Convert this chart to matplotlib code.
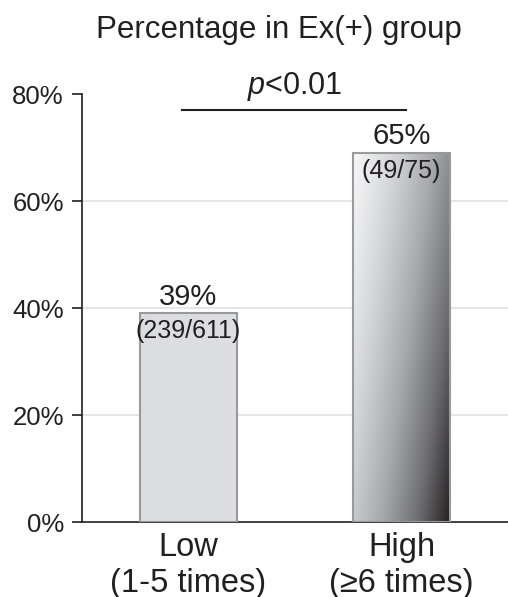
import numpy as np
import matplotlib
matplotlib.use('Agg')
import matplotlib.pyplot as plt
from matplotlib.colors import LinearSegmentedColormap

plt.rcParams['font.family'] = ['Liberation Sans', 'DejaVu Sans']
plt.rcParams['mathtext.fontset'] = 'custom'
plt.rcParams['mathtext.it'] = 'Liberation Sans:italic'
plt.rcParams['mathtext.rm'] = 'Liberation Sans'

categories = ['Low\n(1-5 times)', 'High\n(\u22656 times)']
heights = [39, 69]
pct_labels = ['39%', '65%']
frac_labels = ['(239/611)', '(49/75)']
yticks = [0, 20, 40, 60, 80]
ytick_labels = ['0%', '20%', '40%', '60%', '80%']

fig = plt.figure(figsize=(5.08, 5.97), dpi=100)
ax = fig.add_axes([0.1614, 0.1256, 0.8386, 0.7169])

x = np.arange(len(categories))
bars = ax.bar(x, heights, width=0.46, color=['#dcdde0', 'none'],
              edgecolor='#9a9a9a', linewidth=1.5, zorder=3)

# gradient fill on the second bar
b = bars[1]
x0, y0 = b.get_x(), b.get_y()
w, h = b.get_width(), b.get_height()
u = np.linspace(0, 1, 200)
v = np.linspace(1, 0, 300)
U, V = np.meshgrid(u, v)
t = 0.75 * U + 0.4 * (1 - V)
t = t / t.max()
cmap = LinearSegmentedColormap.from_list(
    'g', ['#f6f6f7', '#d0d1d4', '#a5a6aa', '#6e6e72', '#231f20'])
im = ax.imshow(t ** 1.15, cmap=cmap, extent=[x0, x0 + w, y0, y0 + h],
               aspect='auto', zorder=2, interpolation='bilinear')
im.set_clip_path(b)

for i in range(len(categories)):
    ax.text(x[i], heights[i] + 3.1, pct_labels[i], ha='center', va='center',
            fontsize=21, color='#231f20', zorder=4)
    ax.text(x[i], heights[i] - 3.3, frac_labels[i], ha='center', va='center',
            fontsize=18, color='#231f20', zorder=4)

ax.set_xlim(-0.5, 1.5)
ax.set_ylim(0, 80)
ax.set_yticks(yticks)
ax.set_yticklabels(ytick_labels)
ax.set_xticks(x)
ax.set_xticklabels(categories, fontsize=23.5, linespacing=1.2)
ax.tick_params(axis='x', length=0, pad=7, colors='#231f20')
ax.tick_params(axis='y', length=7, width=1.2, pad=6, labelsize=18.5,
               colors='#231f20')

for yv in [20, 40, 60]:
    ax.axhline(yv, color='#e2e2e2', linewidth=1.2, zorder=1)

for s in ['top', 'right']:
    ax.spines[s].set_visible(False)
for s in ['left', 'bottom']:
    ax.spines[s].set_color('#231f20')
    ax.spines[s].set_linewidth(1.2)

# significance line
ax.plot([-0.03, 1.02], [77, 77], color='#231f20', linewidth=1.5,
        clip_on=False, zorder=4)
ax.text(0.5, 81.5, '$p$<0.01', ha='center', va='center', fontsize=22,
        color='#231f20', clip_on=False)

fig.text(279 / 508, 1 - 30 / 597, 'Percentage in Ex(+) group', ha='center',
         va='center', fontsize=22.5, color='#231f20')

fig.savefig('out.png', dpi=100)
